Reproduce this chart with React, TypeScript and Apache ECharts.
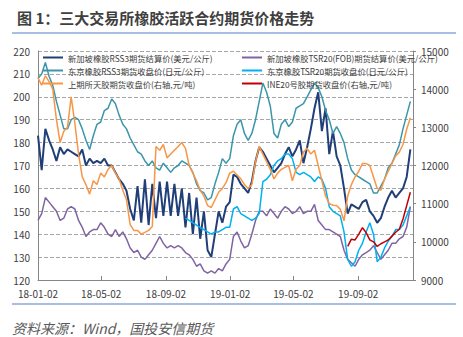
import { useEffect, useRef } from 'react';
import * as echarts from 'echarts';

const START_DATE = '2018-01-02';
const STEP_DAYS = 7;
const X_TICK_DATES = ['2018-01-02', '2018-05-02', '2018-09-02', '2019-01-02', '2019-05-02', '2019-09-02'];
const X_END_DATE = '2019-12-15';
const TOCOM_TSR20_START = '2018-10-09';
const INE20_START = '2019-08-13';

const NAMES = [
  '新加坡橡胶RSS3期货结算价(美元/公斤)',
  '东京橡胶RSS3期货收盘价(日元/公斤)',
  '上期所天胶期货收盘价(右轴,元/吨)',
  '新加坡橡胶TSR20(FOB)期货结算价(美元/公斤)',
  '东京橡胶TSR20期货收盘价(日元/公斤)',
  'INE20号胶期货收盘价(右轴,元/吨)',
];

const SGX_RSS3 = [
  183, 168, 186, 181, 177, 172, 178, 175, 177, 176,
  175, 174, 177, 170, 173, 171, 172, 171, 173, 170,
  170, 167, 164, 162, 159, 151, 146, 161, 145, 164,
  144, 162, 147, 163, 148, 163, 148, 162, 148, 160,
  143, 158, 140, 156, 138, 150, 133, 130, 140, 150,
  145, 152, 154, 166, 165, 162, 160, 158, 163, 172,
  178, 176, 173, 170, 167, 169, 171, 175, 178, 174,
  177, 181, 171, 178, 186, 195, 202, 185, 195, 175,
  185, 174, 170, 160, 149, 153, 152, 151, 154, 155,
  150, 148, 145, 147, 152, 156, 159, 156, 158, 160,
  165, 177,
];

const SGX_TSR20 = [
  146, 149, 156, 154, 152, 150, 146, 147, 151, 152,
  151, 146, 143, 139, 141, 142, 142, 145, 143, 140,
  139, 142, 139, 141, 138, 134, 132, 133, 130, 129,
  131, 133, 136, 139, 136, 134, 135, 134, 135, 134,
  132, 131, 129, 126, 127, 124, 123, 124, 123, 125,
  124, 127, 129, 139, 141, 137, 134, 135, 140, 146,
  150, 150, 148, 151, 149, 147, 150, 152, 151, 149,
  150, 152, 149, 150, 150, 153, 146, 144, 142, 142,
  141, 140, 139, 133, 129, 127.5, 126, 129, 131, 132,
  133, 135, 132, 129, 131, 133, 136, 136, 138, 139,
  143, 152,
];

const TOCOM_RSS3 = [
  208, 210, 215, 209, 205, 198, 192, 186, 186, 190,
  191, 190, 186, 181, 177, 183, 188, 189, 194, 195,
  199, 197, 192, 188, 186, 182, 179, 176, 175, 172,
  170, 172, 169, 168, 171, 169, 167, 169, 170, 172,
  171, 170, 167, 162, 159, 158, 155, 156, 162, 167,
  173, 171, 173, 183, 188, 190, 184, 181, 184, 190,
  198, 206, 202, 196, 184, 182, 188, 190, 187, 189,
  195, 196, 197, 200, 203, 206, 204, 200, 194, 190,
  184, 187, 184, 180, 173, 168, 166, 165, 164, 163,
  162, 158, 158, 161, 164, 169, 171, 175, 179, 186,
  192, 198,
];

const TOCOM_TSR20 = [
  147, 146, 145, 144, 143, 142, 141, 140, 141, 141,
  142, 143, 143, 151, 152, 149, 148, 147, 146, 147,
  149, 163, 164, 166, 170, 172, 173, 175, 175, 173,
  167, 166, 167, 166, 165, 163, 165, 164, 160, 152,
  150, 149, 148, 141, 129, 126, 128, 133, 136, 141,
  145, 140, 128, 130, 134, 137, 139, 142, 142, 144,
  148, 152,
];

const SHFE_RU = [
  14300, 14100, 14350, 14200, 14000, 13200, 12600, 12900, 13000, 13800,
  13100, 12300, 11700, 11500, 11250, 11600, 11500, 11800, 11700, 11900,
  12000, 11800, 11650, 11350, 11100, 10450, 10300, 10300, 10200, 10250,
  10300, 10400, 12500, 12400, 12550, 12200, 12300, 12400, 12500, 12600,
  12450, 12000, 11800, 11600, 11350, 11200, 10950, 10900, 11100, 11300,
  11400, 11550, 11800, 11850, 11750, 11650, 11500, 11400, 11500, 12100,
  12500, 12300, 12100, 11900, 11650, 11800, 11900, 11950, 12000, 11600,
  11900, 12000, 12350, 12450, 12300, 12400, 12000, 11600, 11200, 11000,
  10960, 10950, 10850, 10550, 11200, 11500, 11700, 11850, 12050, 12050,
  12000, 11700, 11400, 11350, 11650, 11850, 12050, 12250, 12350, 12550,
  12950, 13250,
];

const INE_NR = [
  9880, 10070, 10050, 10200, 10370, 10240, 10050, 10000, 9880, 9950,
  10000, 10050, 10150, 10250, 10330, 10600, 10950, 11300,
];

const COLORS = ['#203f78', '#3b96ab', '#f79646', '#8064a2', '#00b0f0', '#c00000'];

const DAY_MS = 86400000;
const toUTC = (s: string) => {
  const [y, m, d] = s.split('-').map(Number);
  return Date.UTC(y, m - 1, d);
};
const dayOf = (s: string) => Math.round((toUTC(s) - toUTC(START_DATE)) / DAY_MS);
const fmtDay = (day: number) => {
  const dt = new Date(toUTC(START_DATE) + day * DAY_MS);
  const p = (n: number) => String(n).padStart(2, '0');
  return `${p(dt.getUTCFullYear() % 100)}-${p(dt.getUTCMonth() + 1)}-${p(dt.getUTCDate())}`;
};
const toPairs = (vals: number[], startDay: number) =>
  vals.map((v, i) => [startDay + i * STEP_DAYS, v]);

const FONT = "'Noto Sans CJK SC', 'Noto Sans', sans-serif";

export default function App() {
  const ref = useRef<HTMLDivElement>(null);
  useEffect(() => {
    if (!ref.current) return;
    const chart = echarts.init(ref.current, undefined, { renderer: 'svg' });
    const ticks = X_TICK_DATES.map(dayOf);
    const mk = (name: string, data: any[], color: string, yIdx: number, width: number) => ({
      name,
      type: 'line',
      yAxisIndex: yIdx,
      data,
      showSymbol: false,
      symbol: 'none',
      lineStyle: { color, width },
      itemStyle: { color },
    });
    const legendCommon = {
      orient: 'vertical',
      top: 46,
      itemWidth: 20,
      itemHeight: 2,
      itemGap: 0,
      icon: 'rect',
      textStyle: { fontSize: 8.3, color: '#404040', lineHeight: 13, fontFamily: FONT },
    };
    chart.setOption({
      animation: false,
      backgroundColor: '#ffffff',
      textStyle: { fontFamily: FONT },
      title: {
        text: '图 1：三大交易所橡胶活跃合约期货价格走势',
        left: 12,
        top: 5,
        textStyle: { fontSize: 15, fontWeight: 'bold', color: '#3f3f3f', fontFamily: FONT },
      },
      legend: [
        { ...legendCommon, left: 38, data: [NAMES[0], NAMES[1], NAMES[2]] },
        { ...legendCommon, left: 237, data: [NAMES[3], NAMES[4], NAMES[5]] },
      ],
      grid: { left: 38, right: 50, top: 51, bottom: 57 },
      xAxis: {
        type: 'value',
        min: 0,
        max: dayOf(X_END_DATE),
        axisLine: { show: true, lineStyle: { color: '#868686' } },
        axisTick: { show: true, inside: true, length: 4, customValues: ticks, lineStyle: { color: '#868686' } },
        axisLabel: { customValues: ticks, formatter: (v: number) => fmtDay(v), fontSize: 10, color: '#404040', margin: 8 },
        splitLine: { show: false },
      },
      yAxis: [
        {
          type: 'value',
          min: 120,
          max: 220,
          interval: 10,
          position: 'left',
          axisLine: { show: true, lineStyle: { color: '#868686' } },
          axisTick: { show: false },
          axisLabel: { fontSize: 10, color: '#404040', margin: 8, formatter: (v: number) => String(v) },
          splitLine: { show: true, lineStyle: { type: 'dashed', color: '#a6a6a6' } },
        },
        {
          type: 'value',
          min: 9000,
          max: 15000,
          interval: 1000,
          position: 'right',
          axisLine: { show: true, lineStyle: { color: '#868686' } },
          axisTick: { show: true, length: 3, lineStyle: { color: '#868686' } },
          axisLabel: { fontSize: 10, color: '#404040', margin: 8, formatter: (v: number) => String(v) },
          splitLine: { show: false },
        },
      ],
      series: [
        mk(NAMES[0], toPairs(SGX_RSS3, 0), COLORS[0], 0, 2),
        mk(NAMES[3], toPairs(SGX_TSR20, 0), COLORS[3], 0, 1.5),
        mk(NAMES[1], toPairs(TOCOM_RSS3, 0), COLORS[1], 0, 1.5),
        mk(NAMES[4], toPairs(TOCOM_TSR20, dayOf(TOCOM_TSR20_START)), COLORS[4], 0, 1.5),
        mk(NAMES[2], toPairs(SHFE_RU, 0), COLORS[2], 1, 1.5),
        mk(NAMES[5], toPairs(INE_NR, dayOf(INE20_START)), COLORS[5], 1, 1.5),
      ],
      graphic: [
        { type: 'line', shape: { x1: 12, y1: 33, x2: 456, y2: 33 }, style: { stroke: '#8ea9db', lineWidth: 1.5 } },
        { type: 'line', shape: { x1: 12, y1: 304, x2: 456, y2: 304 }, style: { stroke: '#8ea9db', lineWidth: 1.5 } },
        {
          type: 'text',
          x: 12,
          y: 328,
          style: {
            text: '资料来源：Wind，国投安信期货',
            fontSize: 14,
            fontStyle: 'italic',
            fill: '#595959',
            fontFamily: FONT,
            verticalAlign: 'middle',
          },
        },
      ],
    });
    return () => chart.dispose();
  }, []);
  return (
    <div
      ref={ref}
      style={{ position: 'fixed', left: 0, top: 0, width: 463, height: 337, background: '#fff' }}
    />
  );
}
